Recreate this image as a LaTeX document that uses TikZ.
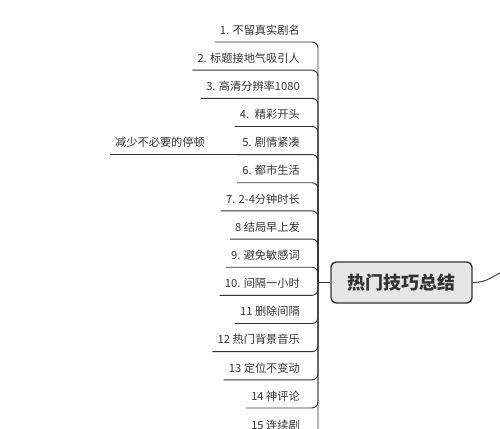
\documentclass[tikz,border=0pt]{standalone}
\usepackage{fontspec}
\setmainfont{Noto Sans CJK SC}
\definecolor{ink}{HTML}{333333}
\definecolor{boxfill}{HTML}{E6E6E6}
\tikzset{
  item/.style={anchor=south east, inner xsep=5pt, inner ysep=5pt, text height=8.6pt, text depth=2.6pt,
    font=\fontsize{11.2}{13}\selectfont, text=ink},
  branch/.style={draw=ink, line width=0.9pt, rounded corners=6pt},
  central/.style={draw=ink, line width=1.4pt, fill=boxfill, rounded corners=5pt,
    minimum width=141pt, minimum height=41pt, font=\fontsize{18}{20}\selectfont\bfseries, text=ink}
}
\begin{document}
\begin{tikzpicture}[x=1pt,y=-1pt]
\clip (0,0) rectangle (500,428);
\fill[white] (0,0) rectangle (500,428);
\node[central] (c) at (401.5,282.5) {热门技巧总结};
\coordinate (J) at (318,282.5);
\foreach \i/\t in {1/{1. 不留真实剧名},2/{2. 标题接地气吸引人},3/{3. 高清分辨率1080},4/{4.~ 精彩开头},5/{5. 剧情紧凑},6/{6. 都市生活},7/{7. 2-4分钟时长},8/{8 结局早上发},9/{9. 避免敏感词},10/{10. 间隔一小时},11/{11 删除间隔},12/{12 热门背景音乐},13/{13 定位不变动},14/{14 神评论}}{
  \node[item] (n\i) at (305,{42+28.15*(\i-1)}) {\t};
  \draw[branch] (J) |- (n\i.south west);
}
\node[item] (n15) at (305,437) {15 连续剧};
\draw[branch] (J) |- (n15.south west);
\node[item] (s5) at (210,{42+28.15*4}) {减少不必要的停顿};
\draw[branch] (n5.south west) -- (s5.south west);
\draw[branch] (J) -- (c.west);
\coordinate (r) at (506,270);
\draw[draw=ink, line width=0.9pt] (c.east) .. controls (488,282.5) and (492,276) .. (r);
\end{tikzpicture}
\end{document}
